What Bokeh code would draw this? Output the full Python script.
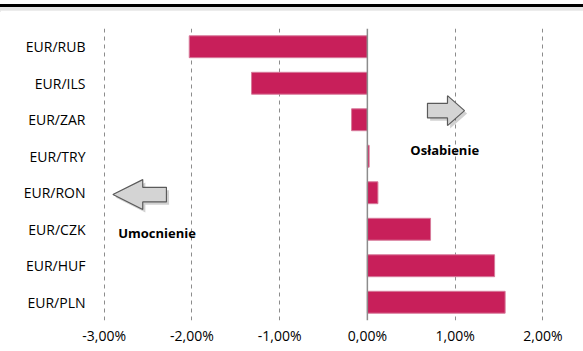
from bokeh.plotting import figure
from bokeh.models import Range1d, FixedTicker, Span, Label, Div
from bokeh.layouts import column
from bokeh.embed import file_html
from bokeh.resources import INLINE

categories = ["EUR/PLN", "EUR/HUF", "EUR/CZK", "EUR/RON", "EUR/TRY", "EUR/ZAR", "EUR/ILS", "EUR/RUB"]
values = [1.57, 1.45, 0.72, 0.12, 0.02, -0.18, -1.32, -2.03]
x_ticks = [-3, -2, -1, 0, 1, 2]
x_tick_labels = ["-3,00%", "-2,00%", "-1,00%", "0,00%", "1,00%", "2,00%"]

FONT = "Open Sans"
pos = [i + 0.5 for i in range(len(categories))]

HEADER_H = 10
p = figure(width=583, height=351 - HEADER_H, output_backend="svg", toolbar_location=None,
           x_range=Range1d(-3.03, 2.03), y_range=Range1d(0, len(categories)),
           min_border_left=101, min_border_right=38, min_border_top=28 - HEADER_H,
           min_border_bottom=31, margin=(0, 0, 0, 0))
p.outline_line_color = None
p.background_fill_color = "white"

left = [min(v, 0) for v in values]
right = [max(v, 0) for v in values]
p.hbar(y=pos, left=left, right=right, height=0.6, fill_color="#C81F5A",
       line_color="#D77A9A", line_width=1)

p.xgrid.ticker = FixedTicker(ticks=[-3, -2, -1, 1, 2])
p.xgrid.grid_line_color = "#8c8c8c"
p.xgrid.grid_line_dash = "4 4"
p.xgrid.grid_line_width = 1
p.ygrid.grid_line_color = None
p.add_layout(Span(location=0, dimension="height", line_color="#8c8c8c", line_width=1.5))

for ax in (p.xaxis, p.yaxis):
    ax.axis_line_color = None
    ax.major_tick_line_color = None
    ax.minor_tick_line_color = None
    ax.major_tick_out = 0
    ax.major_tick_in = 0
    ax.minor_tick_out = 0
    ax.minor_tick_in = 0
    ax.major_label_text_font = FONT
    ax.major_label_text_font_size = "14px"
    ax.major_label_text_color = "#000000"

p.xaxis.ticker = FixedTicker(ticks=x_ticks)
p.xaxis.major_label_overrides = {t: l for t, l in zip(x_ticks, x_tick_labels)}
p.xaxis.major_label_standoff = 5

p.yaxis.ticker = FixedTicker(ticks=pos)
p.yaxis.major_label_overrides = {pp: c for pp, c in zip(pos, categories)}
p.yaxis.major_label_standoff = 16

# decorative arrows
def left_arrow(tip, hb, end, yc, hh, bh):
    xs = [tip, hb, hb, end, end, hb, hb]
    ys = [yc, yc + hh, yc + bh, yc + bh, yc - bh, yc - bh, yc - hh]
    return xs, ys

def right_arrow(start, hb, tip, yc, hh, bh):
    xs = [start, hb, hb, tip, hb, hb, start]
    ys = [yc + bh, yc + bh, yc + hh, yc, yc - hh, yc - bh, yc - bh]
    return xs, ys

lx, ly = left_arrow(-2.9, -2.56, -2.29, 3.45, 0.41, 0.2)
rx, ry = right_arrow(0.685, 0.913, 1.107, 5.75, 0.41, 0.2)
for xs, ys in [(lx, ly), (rx, ry)]:
    p.patch([x + 0.03 for x in xs], [y - 0.08 for y in ys], fill_color="#000000",
            fill_alpha=0.18, line_color=None)
    p.patch(xs, ys, fill_color="#d4d4d4", line_color="#5a5a5a", line_width=1.2)

p.add_layout(Label(x=-2.84, y=2.384, text="Umocnienie", text_font=FONT, text_font_style="bold",
                   text_font_size="13px", text_baseline="middle", text_color="#000000"))
p.add_layout(Label(x=0.49, y=4.66, text="Osłabienie", text_font=FONT, text_font_style="bold",
                   text_font_size="13px", text_baseline="middle", text_color="#000000"))

header = Div(width=583, height=HEADER_H, margin=(0, 0, 0, 0),
             text='<div style="height:3px;margin-top:2px;background:#000000;width:583px"></div>'
                  '<div style="height:5px;background:#e6e6e6;width:583px"></div>')

layout = column(header, p, spacing=0, margin=(0, 0, 0, 0))
open("out.html", "w").write(file_html(layout, INLINE))
